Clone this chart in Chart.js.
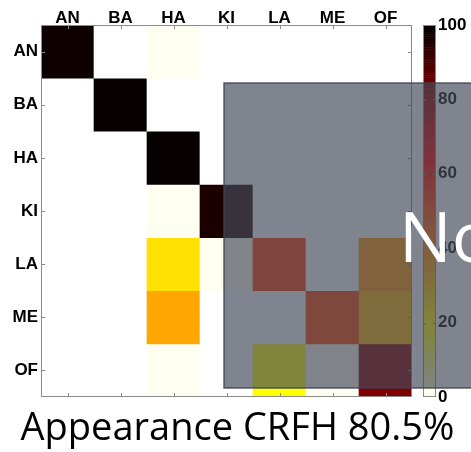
<!DOCTYPE html>
<html>
<head>
<meta charset="utf-8">
<script src="https://cdn.jsdelivr.net/npm/chart.js@4.4.1/dist/chart.umd.min.js"></script>
<style>
  html, body { margin: 0; padding: 0; background: #fff; }
  #wrap { width: 471px; height: 452px; }
</style>
</head>
<body>
<div id="wrap"><canvas id="cm" width="471" height="452"></canvas></div>
<script>
// ─── DATA ─────────────────────────────────────────────
const classes = ['AN', 'BA', 'HA', 'KI', 'LA', 'ME', 'OF'];

// confusion matrix, rows = true class, cols = predicted (percent)
const rowAN = [98, 0, 1, 0, 0, 0, 0];
const rowBA = [0, 99, 0, 0, 0, 0, 0];
const rowHA = [0, 0, 99, 0, 0, 0, 0];
const rowKI = [0, 0, 1, 96, 0, 0, 0];
const rowLA = [0, 0, 25, 1, 53, 0, 37];
const rowME = [0, 0, 35, 0, 0, 52, 33];
const rowOF = [0, 0, 1, 0, 20, 1, 82];
const matrix = [rowAN, rowBA, rowHA, rowKI, rowLA, rowME, rowOF];

const barTicks = [0, 20, 40, 60, 80, 100];
const titleText = 'Appearance CRFH 80.5%';
const overlayText = 'No';

// ─── COLOUR MAP (reversed "hot": 0 = white, 100 = black) ───
function clamp01(x) { return Math.max(0, Math.min(1, x)); }
function hotRev(v) {
    const t = (100 - v) / 100;
    const r = clamp01(t / 0.36);
    const g = clamp01((t - 0.37) / 0.43);
    const b = clamp01((t - 0.82) / 0.18);
    return `rgb(${Math.round(r * 255)},${Math.round(g * 255)},${Math.round(b * 255)})`;
}

// one floating-bar dataset per row
const datasets = matrix.map((row, r) => ({
    label: classes[r],
    data: row.map(() => [r - 0.5, r + 0.5]),
    backgroundColor: row.map(hotRev),
    borderWidth: 0,
    grouped: false,
    barPercentage: 1,
    categoryPercentage: 1,
}));

const labelFont = { family: '"Liberation Sans", Arial, sans-serif', size: 17, weight: 'bold' };

// vertical axes: no extra end padding for labels, fixed width
const fixWidth = (w) => (s) => {
    s.width = w;
    s.paddingTop = 0;
    s.paddingBottom = 0;
};

// ─── EXTRA DRAWING: frame, ticks, colorbar, overlay, title ───
const decor = {
    id: 'decor',
    afterDraw(chart) {
        const ctx = chart.ctx;
        const a = chart.chartArea;
        const xs = chart.scales.x, ys = chart.scales.y, cb = chart.scales.cb;

        // plot frame + inward ticks
        ctx.save();
        ctx.strokeStyle = '#8a8a8a';
        ctx.lineWidth = 1;
        ctx.strokeRect(a.left + 0.5, a.top + 0.5, a.right - a.left - 1, a.bottom - a.top - 1);
        ctx.beginPath();
        classes.forEach((_, i) => {
            const px = Math.round(xs.getPixelForValue(i)) + 0.5;
            ctx.moveTo(px, a.top); ctx.lineTo(px, a.top + 4);
            ctx.moveTo(px, a.bottom); ctx.lineTo(px, a.bottom - 4);
            const py = Math.round(ys.getPixelForValue(i)) + 0.5;
            ctx.moveTo(a.left, py); ctx.lineTo(a.left + 4, py);
            ctx.moveTo(a.right, py); ctx.lineTo(a.right - 4, py);
        });
        ctx.stroke();

        // colorbar
        const cx0 = a.right + 11, cx1 = a.right + 24;
        for (let v = 0; v < 100; v += 0.5) {
            const y0 = cb.getPixelForValue(v), y1 = cb.getPixelForValue(v + 0.5);
            ctx.fillStyle = hotRev(v + 0.25);
            ctx.fillRect(cx0, y1, cx1 - cx0, y0 - y1 + 0.5);
        }
        ctx.strokeStyle = '#8a8a8a';
        ctx.strokeRect(cx0 + 0.5, cb.top + 0.5, cx1 - cx0 - 1, cb.bottom - cb.top - 1);
        ctx.beginPath();
        barTicks.slice(1, -1).forEach(v => {
            const py = Math.round(cb.getPixelForValue(v)) + 0.5;
            ctx.moveTo(cx0, py); ctx.lineTo(cx0 + 3, py);
            ctx.moveTo(cx1, py); ctx.lineTo(cx1 - 3, py);
        });
        ctx.stroke();

        // grey overlay panel
        const ox = a.left + 183, oy = a.top + 58;
        const ow = chart.width - ox + 5, oh = a.bottom - 9 - oy;
        ctx.fillStyle = 'rgba(68,74,89,0.68)';
        ctx.fillRect(ox, oy, ow, oh);
        ctx.strokeStyle = 'rgba(60,68,86,0.85)';
        ctx.lineWidth = 1.5;
        ctx.strokeRect(ox, oy, ow, oh);

        ctx.fillStyle = '#ffffff';
        ctx.font = '70px "Open Sans", sans-serif';
        ctx.textBaseline = 'alphabetic';
        ctx.textAlign = 'left';
        ctx.fillText(overlayText, a.left + 358, a.top + 237);

        // bottom title
        ctx.fillStyle = '#000000';
        ctx.font = '38px "Open Sans", sans-serif';
        ctx.textAlign = 'center';
        ctx.fillText(titleText, chart.width / 2 + 2, 440);
        ctx.restore();
    }
};

new Chart(document.getElementById('cm').getContext('2d'), {
    type: 'bar',
    data: { labels: classes, datasets },
    options: {
        responsive: false,
        animation: false,
        events: [],
        layout: { padding: { left: 0, right: 0, top: 0, bottom: 55 } },
        plugins: { legend: { display: false }, tooltip: { enabled: false }, title: { display: false } },
        scales: {
            x: {
                type: 'category',
                position: 'top',
                offset: true,
                grid: { display: false, drawTicks: false },
                border: { display: false },
                ticks: { color: '#000', font: labelFont, padding: -4, maxRotation: 0 },
                afterFit: (s) => { s.height = 25; s.paddingLeft = 0; s.paddingRight = 0; },
            },
            y: {
                type: 'linear',
                position: 'left',
                reverse: true,
                min: -0.5,
                max: classes.length - 0.5,
                grid: { display: false, drawTicks: false },
                border: { display: false },
                afterBuildTicks: (s) => { s.ticks = classes.map((_, i) => ({ value: i })); },
                ticks: { color: '#000', font: labelFont, padding: 3, callback: (v) => classes[v] },
                afterFit: fixWidth(41),
            },
            cb: {
                type: 'linear',
                position: 'right',
                min: 0,
                max: 100,
                grid: { display: false, drawTicks: false },
                border: { display: false },
                afterBuildTicks: (s) => { s.ticks = barTicks.map(v => ({ value: v })); },
                ticks: { color: '#000', font: labelFont, padding: 26 },
                afterFit: fixWidth(59),
            },
        },
    },
    plugins: [decor],
});
</script>
</body>
</html>
